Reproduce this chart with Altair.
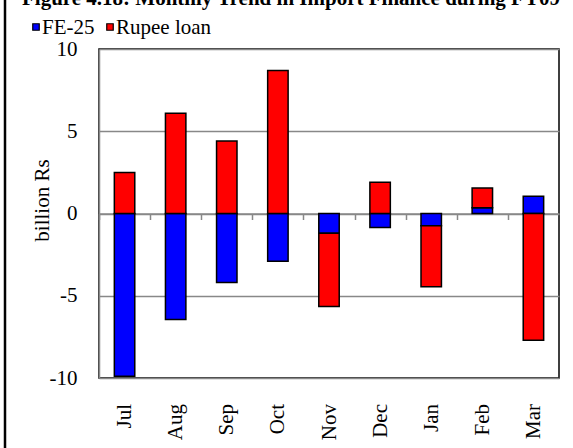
import altair as alt
import pandas as pd

# Monthly import finance flows, FY09 (billion Rs)
months = ["Jul", "Aug", "Sep", "Oct", "Nov", "Dec", "Jan", "Feb", "Mar"]
fe25 = [-9.9, -6.45, -4.2, -2.9, -1.2, -0.85, -0.75, 0.35, 1.05]
rupee_loan = [2.5, 6.1, 4.4, 8.7, -4.45, 1.9, -3.7, 1.2, -7.7]
series_names = ["FE-25", "Rupee loan"]
series_colors = ["#0000FF", "#FF0000"]
y_ticks = [-10, -5, 0, 5, 10]

title_text = "Figure 4.18: Monthly Trend in Import Finance during FY09"

rows = []
for m, a, b in zip(months, fe25, rupee_loan):
    rows.append({"month": m, "series": series_names[0], "value": a, "rank": 0})
    rows.append({"month": m, "series": series_names[1], "value": b, "rank": 1})
df = pd.DataFrame(rows)
one = pd.DataFrame({"k": [0]})

FONT = "Liberation Serif"
FS = 21
W, H = 460, 329
PAD_L, PAD_T, PAD_R, PAD_B = 99, 49, 14, 70
STEP = W / len(months)

bars = alt.Chart(df).mark_bar(stroke="black", strokeWidth=1.5).encode(
    x=alt.X(
        "month:N",
        sort=months,
        scale=alt.Scale(paddingInner=0.6, paddingOuter=0.3),
        axis=alt.Axis(
            title=None,
            labelAngle=270,
            labelFont=FONT,
            labelFontSize=FS,
            labelColor="black",
            labelPadding=184,
            labelOffset=STEP / 2,
            tickOffset=-STEP / 2,
            offset=-H / 2,
            ticks=True,
            tickSize=6,
            tickColor="#888888",
            tickWidth=1.5,
            domainColor="#888888",
            domainWidth=1.5,
        ),
    ),
    y=alt.Y(
        "value:Q",
        stack="zero",
        scale=alt.Scale(domain=[-10, 10], nice=False),
        axis=alt.Axis(
            title="billion Rs",
            titleFont=FONT,
            titleFontSize=FS,
            titleFontWeight="normal",
            titleColor="black",
            titleAngle=270,
            titleAlign="center",
            titleBaseline="middle",
            titleX=-57,
            titleY=151,
            values=y_ticks,
            labelExpr="'' + datum.value",
            labelFont=FONT,
            labelFontSize=FS,
            labelColor="black",
            labelPadding=22,
            ticks=False,
            grid=True,
            gridColor="#888888",
            gridWidth=1.5,
            domainColor="#888888",
            domainWidth=1.5,
        ),
    ),
    color=alt.Color(
        "series:N",
        scale=alt.Scale(domain=series_names, range=series_colors),
        legend=None,
    ),
    order=alt.Order("rank:Q"),
)

# Legend drawn by hand: one swatch + label per series, in a row above the plot
legend_layout = [(-63, -57), (11, 17)]  # (swatch centre x, label x) in px
legend_y = -22
legend_layers = []
for name, color, (sx, lx) in zip(series_names, series_colors, legend_layout):
    legend_layers.append(
        alt.Chart(one).mark_square(
            size=42, color=color, opacity=1, stroke="black", strokeWidth=1.2
        ).encode(x=alt.value(sx), y=alt.value(legend_y))
    )
    legend_layers.append(
        alt.Chart(one).mark_text(
            align="left", baseline="middle", font=FONT, fontSize=FS, color="black"
        ).encode(x=alt.value(lx), y=alt.value(legend_y + 1), text=alt.value(name))
    )

frame_line = alt.Chart(one).mark_rule(color="black", strokeWidth=2.5).encode(
    x=alt.value(-94), y=alt.value(-PAD_T), y2=alt.value(H + PAD_B)
)

heading = alt.Chart(one).mark_text(
    align="left", baseline="alphabetic", font=FONT, fontSize=FS,
    fontWeight="bold", color="black",
).encode(x=alt.value(-77), y=alt.value(-44.5), text=alt.value(title_text))

chart = alt.layer(bars, frame_line, heading, *legend_layers).properties(
    width=W,
    height=H,
    autosize=alt.AutoSizeParams(type="none"),
    padding={"left": PAD_L, "top": PAD_T, "right": PAD_R, "bottom": PAD_B},
).configure(
    background="white", font=FONT
).configure_view(
    stroke="black", strokeWidth=1.5
)

chart.save("out.html", embed_options={"renderer": "svg", "actions": False})
